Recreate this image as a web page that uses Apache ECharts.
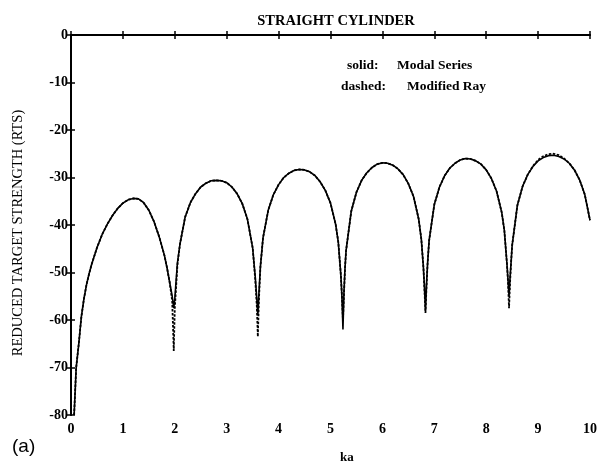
<!DOCTYPE html>
<html>
<head>
<meta charset="utf-8">
<script src="https://cdn.jsdelivr.net/npm/echarts@6/dist/echarts.min.js"></script>
<style>
  html, body { margin: 0; padding: 0; background: #fff; }
  #main { width: 600px; height: 467px; }
</style>
</head>
<body>
<div id="main"></div>
<script>
// ka samples (denser near the nulls)
var kaValues = [
  0.06, 0.1, 0.15, 0.2, 0.25, 0.3, 0.35, 0.4, 0.5, 0.6, 0.7, 0.8, 0.9, 1.0, 1.1, 1.2, 1.3, 1.4, 1.5, 1.6, 1.7, 1.8, 1.85, 1.9, 1.95, 1.98,
  2.0, 2.05, 2.1, 2.2, 2.3, 2.4, 2.5, 2.6, 2.7, 2.8, 2.9, 3.0, 3.1, 3.2, 3.3, 3.4, 3.5, 3.55, 3.58, 3.6,
  3.62, 3.65, 3.7, 3.8, 3.9, 4.0, 4.1, 4.2, 4.3, 4.4, 4.5, 4.6, 4.7, 4.8, 4.9, 5.0, 5.1, 5.15, 5.2, 5.22, 5.24,
  5.26, 5.28, 5.3, 5.4, 5.5, 5.6, 5.7, 5.8, 5.9, 6.0, 6.1, 6.2, 6.3, 6.4, 6.5, 6.6, 6.7, 6.75, 6.79, 6.81, 6.83,
  6.85, 6.87, 6.9, 7.0, 7.1, 7.2, 7.3, 7.4, 7.5, 7.6, 7.7, 7.8, 7.9, 8.0, 8.1, 8.2, 8.3, 8.35, 8.4, 8.42, 8.44,
  8.46, 8.48, 8.5, 8.6, 8.7, 8.8, 8.9, 9.0, 9.1, 9.2, 9.3, 9.4, 9.5, 9.6, 9.7, 9.8, 9.9, 10.0
];

// solid: Modal Series
var modalSeries = [
  -80, -70, -65, -59.3, -55.5, -52.5, -50.2, -48.2, -44.8, -42.0, -39.8, -38.0, -36.5, -35.4, -34.7, -34.4, -34.5, -35.3, -36.9, -39.3, -42.5, -46.4, -49.0, -52.0, -55.0, -57.5,
  -55.5, -48.0, -44.0, -38.3, -35.3, -33.4, -32.0, -31.2, -30.7, -30.6, -30.7, -31.1, -32.0, -33.4, -35.5, -38.8, -44.8, -50.9, -55.5, -59.0,
  -54.5, -48.7, -42.7, -36.9, -33.6, -31.5, -30.0, -29.1, -28.5, -28.3, -28.4, -28.8, -29.6, -30.9, -32.7, -35.4, -39.9, -43.6, -50.6, -55.0, -62.0,
  -54.0, -49.0, -45.4, -37.1, -33.1, -30.6, -29.0, -27.9, -27.2, -26.9, -27.0, -27.4, -28.2, -29.4, -31.3, -34.0, -38.8, -43.0, -48.9, -53.0, -58.0,
  -52.5, -48.2, -43.3, -35.7, -32.0, -29.6, -28.0, -27.0, -26.3, -26.0, -26.1, -26.5, -27.2, -28.4, -30.2, -32.9, -37.4, -41.2, -48.2, -51.5, -55.0,
  -51.0, -47.8, -44.3, -35.9, -31.9, -29.4, -27.7, -26.5, -25.8, -25.4, -25.3, -25.6, -26.1, -27.0, -28.4, -30.5, -33.6, -39.0
];

// dashed: Modified Ray
var modifiedRay = [
  -80, -70, -65, -59.3, -55.5, -52.5, -50.2, -48.2, -44.8, -42.0, -39.8, -38.0, -36.5, -35.4, -34.7, -34.4, -34.5, -35.3, -36.9, -39.3, -42.5, -46.4, -49.0, -52.0, -56.0, -66.5,
  -57.5, -48.5, -44.0, -38.3, -35.3, -33.4, -32.0, -31.2, -30.7, -30.6, -30.7, -31.1, -32.0, -33.4, -35.5, -38.8, -44.8, -51.5, -57.0, -63.5,
  -56.0, -48.7, -42.7, -36.9, -33.6, -31.5, -30.0, -29.1, -28.5, -28.3, -28.4, -28.8, -29.6, -30.9, -32.7, -35.4, -39.9, -43.6, -50.6, -55.0, -60.0,
  -54.5, -49.0, -45.4, -37.1, -33.1, -30.6, -29.0, -27.9, -27.2, -26.9, -27.0, -27.4, -28.2, -29.4, -31.3, -34.0, -38.8, -43.0, -48.9, -53.5, -58.5,
  -53.0, -48.2, -43.3, -35.7, -32.0, -29.6, -28.0, -27.0, -26.3, -26.0, -26.1, -26.5, -27.2, -28.4, -30.2, -32.9, -37.4, -41.2, -48.2, -52.0, -57.5,
  -52.0, -47.8, -44.3, -35.9, -31.9, -29.4, -27.6, -26.3, -25.5, -25.1, -25.0, -25.3, -26.0, -27.0, -28.4, -30.5, -33.6, -39.0
];

var xTicks = [0, 1, 2, 3, 4, 5, 6, 7, 8, 9, 10];
var yTicks = [0, -10, -20, -30, -40, -50, -60, -70, -80];

var serif = '"Liberation Serif", "DejaVu Serif", serif';

function pairs(ys) {
  return kaValues.map(function (x, i) { return [x, ys[i]]; });
}

var myChart = echarts.init(document.getElementById('main'));

var labelStyle = { color: '#000', fontFamily: serif, fontWeight: 'bold', fontSize: 14 };
var boxAxis = {
  axisLine: { show: true, lineStyle: { color: '#000', width: 1.5 } },
  axisTick: { inside: true, length: 4, lineStyle: { color: '#000', width: 1.5 } },
  axisLabel: { show: false },
  splitLine: { show: false }
};

myChart.setOption({
  animation: false,
  backgroundColor: '#fff',
  title: {
    text: 'STRAIGHT CYLINDER',
    left: 331,
    top: 9,
    textAlign: 'center',
    textStyle: { color: '#000', fontFamily: serif, fontWeight: 'bold', fontSize: 14.5 }
  },
  grid: { left: 71, right: 9, top: 35, bottom: 52 },
  xAxis: [{
    type: 'value',
    min: xTicks[0],
    max: xTicks[xTicks.length - 1],
    interval: 1,
    axisLine: { show: true, lineStyle: { color: '#000', width: 2 } },
    axisTick: { inside: true, length: 4, lineStyle: { color: '#000', width: 1.5 } },
    axisLabel: Object.assign({ margin: 7 }, labelStyle),
    splitLine: { show: false }
  }, Object.assign({ type: 'value', position: 'top', min: 0, max: 10, interval: 1 }, boxAxis)],
  yAxis: [{
    type: 'value',
    min: yTicks[yTicks.length - 1],
    max: yTicks[0],
    interval: 10,
    axisLine: { show: true, lineStyle: { color: '#000', width: 2 } },
    axisTick: { inside: true, length: 4, lineStyle: { color: '#000', width: 1.5 } },
    axisLabel: Object.assign({ margin: 3 }, labelStyle),
    splitLine: { show: false }
  }, Object.assign({ type: 'value', position: 'right', min: -80, max: 0, interval: 10 }, boxAxis)],
  graphic: [
    { type: 'text', left: 347, top: 59, style: { text: 'solid:', fill: '#000', font: 'bold 13.5px ' + serif } },
    { type: 'text', left: 397, top: 59, style: { text: 'Modal Series', fill: '#000', font: 'bold 13.5px ' + serif } },
    { type: 'text', left: 341, top: 80, style: { text: 'dashed:', fill: '#000', font: 'bold 13.5px ' + serif } },
    { type: 'text', left: 407, top: 80, style: { text: 'Modified Ray', fill: '#000', font: 'bold 13.5px ' + serif } },
    { type: 'text', left: 340, top: 451, style: { text: 'ka', fill: '#000', font: 'bold 13px ' + serif } },
    { type: 'text', left: 12, top: 437, style: { text: '(a)', fill: '#000', font: '19px "Liberation Sans", Arial, sans-serif' } },
    {
      type: 'text', x: 18, y: 233, rotation: Math.PI / 2,
      style: { text: 'REDUCED TARGET STRENGTH (RTS)', fill: '#000', font: '14.5px ' + serif, align: 'center', verticalAlign: 'middle' }
    }
  ],
  series: [{
    name: 'Modal Series',
    type: 'line',
    data: pairs(modalSeries),
    showSymbol: false,
    lineStyle: { color: '#000', width: 1.6 }
  }, {
    name: 'Modified Ray',
    type: 'line',
    data: pairs(modifiedRay),
    showSymbol: false,
    lineStyle: { color: '#000', width: 1.8, type: [2.5, 1.5] }
  }]
});
</script>
</body>
</html>
